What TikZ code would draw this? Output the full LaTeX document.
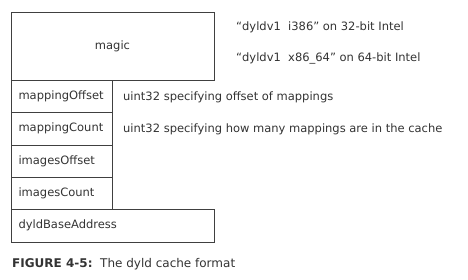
\documentclass[tikz,border=0pt]{standalone}
\usepackage{fontspec}
\setmainfont{DejaVu Sans}
\begin{document}
\begin{tikzpicture}[x=1pt,y=-1pt,
  field/.style={draw=black!75,line width=0.8pt,inner sep=0pt,outer sep=0pt,text=black!80,font=\fontsize{11.5}{13}\selectfont},
  slot/.style={field,anchor=north west,align=left,inner xsep=7.5},
  desc/.style={anchor=west,inner sep=0pt,text=black!80,font=\fontsize{11.5}{13}\selectfont}]
\useasboundingbox (0,0) rectangle (468,279);
% header field
\node[field,minimum width=203,minimum height=67.5] (magic) at (112.5,46.5) {magic};
% 32-bit fields
\node[slot,minimum width=101,minimum height=32.5,text width=86] (mo) at (11,80) {mappingOffset};
\node[slot,minimum width=101,minimum height=32.5,text width=86] (mc) at (mo.south west) {mappingCount};
\node[slot,minimum width=101,minimum height=32,text width=86] (io) at (mc.south west) {imagesOffset};
\node[slot,minimum width=101,minimum height=32,text width=86] (ic) at (io.south west) {imagesCount};
% 64-bit field
\node[slot,minimum width=203,minimum height=33,text width=188] (dba) at (ic.south west) {dyldBaseAddress};
% descriptions
\node[desc] (m1) at (236,27) {“dyldv1\ \ i386” on 32-bit Intel};
\node[desc] (m2) at (236,58) {“dyldv1\ \ x86\_64” on 64-bit Intel};
\node[desc] (d1) at (123,97) {uint32 specifying offset of mappings};
\node[desc] (d2) at (123,129) {uint32 specifying how many mappings are in the cache};
% caption
\node[desc,font=\fontsize{12}{14}\selectfont] (cap) at (12,264) {\textbf{FIGURE 4-5:}\ \ The dyld cache format};
\end{tikzpicture}
\end{document}
